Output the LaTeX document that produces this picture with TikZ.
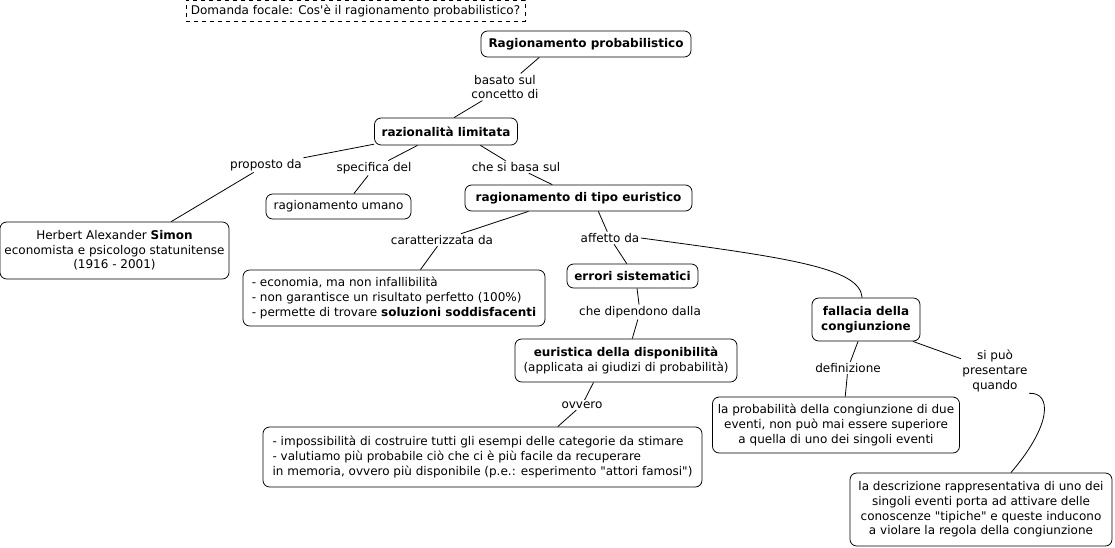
\documentclass[tikz,border=0pt]{standalone}
\usepackage{fontspec}
\setmainfont{DejaVu Sans}
\newdimen\pxu \pxu=0.75pt
\begin{document}
\begin{tikzpicture}[x=0.75pt,y=-0.75pt,
  every node/.style={font=\fontsize{9}{11}\selectfont},
  concept/.style={draw, rounded corners=5pt, line width=0.6pt, inner sep=2pt, align=center},
  focal/.style={draw, dashed, line width=0.6pt, inner sep=2pt},
  lab/.style={inner sep=1pt, align=center},
  link/.style={line width=0.6pt}]
\useasboundingbox (0,0) rectangle (1115,547);

\node[focal, minimum width=339\pxu, minimum height=21\pxu] (fq) at (355.5,10.5) {Domanda focale: Cos\textquotesingle è il ragionamento probabilistico?};

\node[concept, minimum width=210\pxu, minimum height=26\pxu] (R) at (586,44) {\textbf{Ragionamento probabilistico}};
\node[concept, minimum width=143\pxu, minimum height=27\pxu] (raz) at (446,131.5) {\textbf{razionalità limitata}};
\node[concept, minimum width=145\pxu, minimum height=25\pxu] (uma) at (338.5,206.5) {ragionamento umano};
\node[concept, minimum width=227\pxu, minimum height=26\pxu] (eur) at (578.5,198) {\textbf{ragionamento di tipo euristico}};
\node[concept, minimum width=229\pxu, minimum height=57\pxu] (sim) at (114.5,250.5) {Herbert Alexander \textbf{Simon}\\economista e psicologo statunitense\\(1916 - 2001)};
\node[concept, align=left, minimum width=302\pxu, minimum height=56\pxu] (bul) at (394,298) {- economia, ma non infallibilità\\- non garantisce un risultato perfetto (100\%)\\- permette di trovare \textbf{soluzioni soddisfacenti}};
\node[concept, minimum width=131\pxu, minimum height=24\pxu] (err) at (632.5,276) {\textbf{errori sistematici}};
\node[concept, minimum width=108\pxu, minimum height=43\pxu] (fal) at (866,319.5) {\textbf{fallacia della}\\\textbf{congiunzione}};
\node[concept, minimum width=222\pxu, minimum height=43\pxu] (ed) at (626,360.5) {\textbf{euristica della disponibilità}\\(applicata ai giudizi di probabilità)};
\node[concept, align=left, minimum width=439\pxu, minimum height=60\pxu] (bl) at (482.5,457) {- impossibilità di costruire tutti gli esempi delle categorie da stimare\\- valutiamo più probabile ciò che ci è più facile da recuperare\\in memoria, ovvero più disponibile (p.e.: esperimento \textquotedbl attori famosi\textquotedbl)};
\node[concept, minimum width=247\pxu, minimum height=56\pxu] (prob) at (836,425) {la probabilità della congiunzione di due\\eventi, non può mai essere superiore\\a quella di uno dei singoli eventi};
\node[concept, minimum width=262\pxu, minimum height=73\pxu] (br) at (981,509.5) {la descrizione rappresentativa di uno dei\\singoli eventi porta ad attivare delle\\conoscenze \textquotedbl tipiche\textquotedbl{} e queste inducono\\a violare la regola della congiunzione};

\node[lab] (l1) at (505,87) {basato sul\\concetto di};
\node[lab] (lprop) at (266,165) {proposto da};
\node[lab] (lspec) at (374,168) {specifica del};
\node[lab] (lbasa) at (516,167) {che si basa sul};
\node[lab] (lcar) at (442,240) {caratterizzata da};
\node[lab] (laff) at (610,238) {affetto da};
\node[lab] (ldip) at (640,312) {che dipendono dalla};
\node[lab] (ldef) at (848,368) {definizione};
\node[lab] (lsip) at (995,371) {si può\\presentare\\quando};
\node[lab] (lovv) at (582,405) {ovvero};

\draw[link] (R.196) -- (l1);
\draw[link] (l1) -- (raz.60);
\draw[link] (raz.190) -- (lprop);
\draw[link] (lprop) -- (sim.27);
\draw[link] (raz.206) -- (lspec);
\draw[link] (lspec) -- (uma.40);
\draw[link] (raz.338) -- (lbasa);
\draw[link] (lbasa) -- (eur.153);
\draw[link] (eur.195.6) -- (lcar);
\draw[link] (lcar) -- (bul.47);
\draw[link] (eur.326) -- (laff);
\draw[link] (laff) -- (err.115);
\draw[link] (laff.east) .. controls (790,258) and (860,268) .. (fal.100);
\draw[link] (err.290) -- (ldip);
\draw[link] (ldip) -- (ed.74);
\draw[link] (ed.214) -- (lovv);
\draw[link] (lovv) -- (bl.22);
\draw[link] (fal.250) -- (ldef);
\draw[link] (ldef) -- (prob.72);
\draw[link] (fal.335) -- (lsip);
\draw[link] (lsip.south east) .. controls (1052,392) and (1052,425) .. (br.51);
\end{tikzpicture}
\end{document}
